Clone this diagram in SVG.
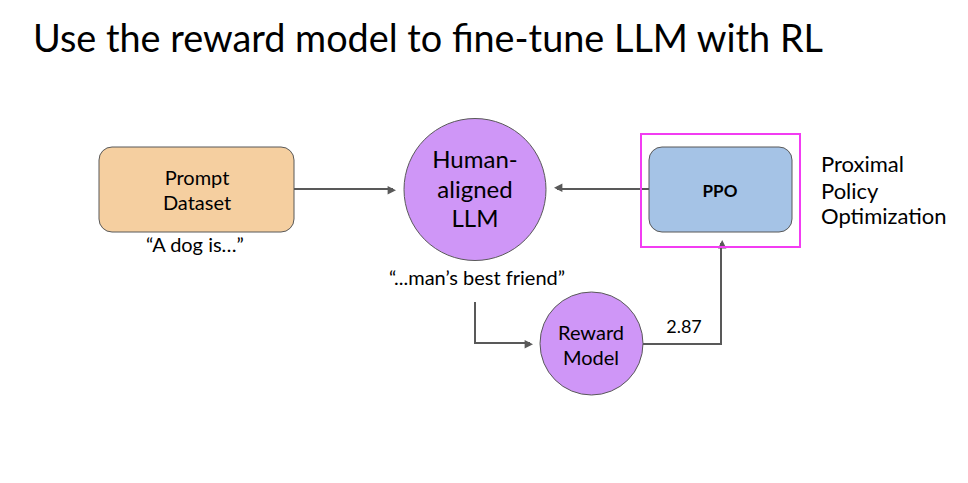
<svg xmlns="http://www.w3.org/2000/svg" width="968" height="483" viewBox="0 0 968 483">
<defs>
<style>
text{font-family:Lato,"Open Sans","Liberation Sans",sans-serif;fill:#000}
.node{stroke:#595959;stroke-width:1}
.lbl{font-size:20px;text-anchor:middle}
.big{font-size:24px;text-anchor:middle}
.conn{fill:none;stroke:#595959;stroke-width:2}
</style>
<marker id="ah" viewBox="0 0 10 10" refX="9" refY="5" markerWidth="6" markerHeight="6" markerUnits="userSpaceOnUse" orient="auto" overflow="visible">
<path d="M0,0 L10,5 L0,10 z" fill="#595959" transform="scale(1.4)"/>
</marker>
</defs>
<rect width="968" height="483" fill="#fff"/>
<text x="33" y="52" font-size="38" textLength="790" lengthAdjust="spacingAndGlyphs">Use the reward model to fine-tune LLM with RL</text>
<g id="connectors">
<path class="conn" d="M294,189 H393" marker-end="url(#ah)"/>
<path class="conn" d="M649,189 H557" marker-end="url(#ah)"/>
<path class="conn" d="M475,302 V343 H530" marker-end="url(#ah)"/>
<path class="conn" d="M643,344 H721 V243" marker-end="url(#ah)"/>
<text x="684" y="333" font-size="18" text-anchor="middle">2.87</text>
</g>
<g id="prompt">
<rect class="node" x="99" y="147" width="195" height="85" rx="13" fill="#f5cfa0"/>
<text class="lbl" x="197" y="185">Prompt</text>
<text class="lbl" x="197" y="210">Dataset</text>
<text class="lbl" x="195" y="252" font-size="19">“A dog is…”</text>
</g>
<g id="llm">
<circle class="node" cx="475" cy="189.5" r="71" fill="#cf96f7"/>
<text class="big" x="475" y="168">Human-</text>
<text class="big" x="475" y="198">aligned</text>
<text class="big" x="475" y="227">LLM</text>
<text class="lbl" x="477" y="285" font-size="19">“...man’s best friend”</text>
</g>
<g id="ppo">
<rect x="641" y="134" width="159" height="113" fill="none" stroke="#f23cf2" stroke-width="2"/>
<rect class="node" x="649" y="147" width="143" height="85" rx="13" fill="#a5c3e6"/>
<text x="720" y="197" font-size="17" font-weight="bold" text-anchor="middle">PPO</text>
<text x="821" y="172" font-size="22">Proximal</text>
<text x="821" y="199" font-size="22">Policy</text>
<text x="821" y="224" font-size="22">Optimization</text>
</g>
<g id="reward">
<circle class="node" cx="591.5" cy="343.5" r="51.5" fill="#cf96f7"/>
<text class="lbl" x="591" y="340">Reward</text>
<text class="lbl" x="591" y="365">Model</text>
</g>
</svg>
